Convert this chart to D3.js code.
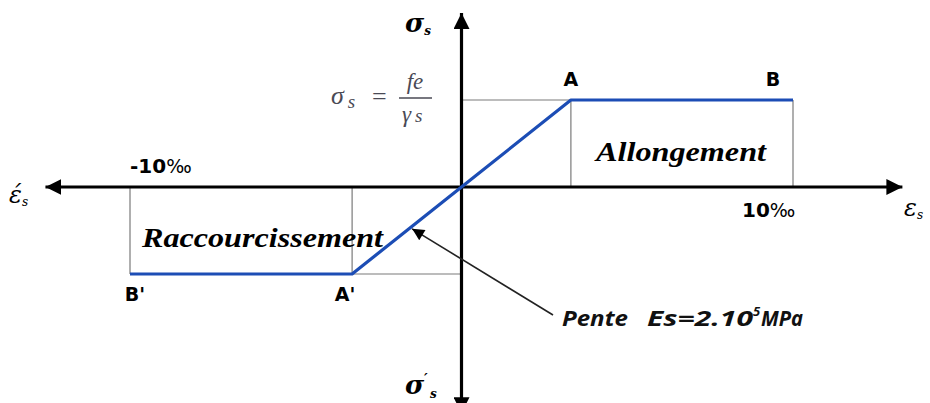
<!DOCTYPE html>
<html>
<head>
<meta charset="utf-8">
<script src="https://cdn.jsdelivr.net/npm/d3@7"></script>
<style>
  html, body { margin: 0; padding: 0; background: #fff; }
  svg { display: block; }
</style>
</head>
<body>
<div id="chart"></div>
<script>
// steel stress-strain diagram (strain in per mille, stress normalised to fe/γs)
const strain = [-10, -3.3, 0, 3.3, 10];
const stress = [-1, -1, 0, 1, 1];
const pointLabels = ["B'", "A'", "", "A", "B"];
const strainTicks = [-10, 10];
const tickLabels = ["-10", "10"];
const xAxisExtent = [-12.55, 13.3];
const yAxisExtent = [-2.6, 2.0];

const width = 930, height = 403;
const svg = d3.select("#chart").append("svg").attr("width", width).attr("height", height);

const x = d3.scaleLinear().domain([-10, 10]).range([130, 793]);
const y = d3.scaleLinear().domain([-1, 1]).range([274, 100]);

const defs = svg.append("defs");
function marker(id, w, h) {
  const m = defs.append("marker").attr("id", id).attr("viewBox", "0 -5 10 10")
    .attr("refX", 10).attr("markerUnits", "userSpaceOnUse")
    .attr("markerWidth", w).attr("markerHeight", h).attr("orient", "auto");
  m.append("path").attr("d", "M0,-5L10,0L0,5Z").attr("fill", "#000");
}
marker("axisArrow", 16, 16);
marker("noteArrow", 14, 12);

// grey guide lines
const guides = [];
strain.forEach((s, i) => {
  if (s === 0) return;
  guides.push({ x1: s, y1: stress[i], x2: s, y2: 0 });
});
const iA = 3, iA2 = 1;
guides.push({ x1: 0, y1: stress[iA], x2: strain[iA], y2: stress[iA] });
guides.push({ x1: 0, y1: stress[iA2], x2: strain[iA2], y2: stress[iA2] });
svg.append("g").selectAll("line").data(guides).join("line")
  .attr("x1", (d) => x(d.x1)).attr("y1", (d) => y(d.y1))
  .attr("x2", (d) => x(d.x2)).attr("y2", (d) => y(d.y2))
  .attr("stroke", "#7a7a7a").attr("stroke-width", 1.2);

// axes
const axes = svg.append("g").attr("stroke", "#000").attr("stroke-width", 3.2);
axes.append("line").attr("x1", x(0)).attr("y1", y(0)).attr("x2", x(xAxisExtent[1])).attr("y2", y(0)).attr("marker-end", "url(#axisArrow)");
axes.append("line").attr("x1", x(0)).attr("y1", y(0)).attr("x2", x(xAxisExtent[0])).attr("y2", y(0)).attr("marker-end", "url(#axisArrow)");
axes.append("line").attr("x1", x(0)).attr("y1", y(0)).attr("x2", x(0)).attr("y2", y(yAxisExtent[1])).attr("marker-end", "url(#axisArrow)");
axes.append("line").attr("x1", x(0)).attr("y1", y(0)).attr("x2", x(0)).attr("y2", y(yAxisExtent[0])).attr("marker-end", "url(#axisArrow)");

// stress-strain curve
const line = d3.line().x((d) => x(d[0])).y((d) => y(d[1]));
svg.append("path").datum(strain.map((s, i) => [s, stress[i]]))
  .attr("d", line).attr("fill", "none").attr("stroke", "#1c4db5").attr("stroke-width", 3.2)
  .attr("stroke-linejoin", "round");

// point labels
const pts = strain.map((s, i) => ({ s, v: stress[i], label: pointLabels[i] })).filter((d) => d.label);
svg.append("g").selectAll("text").data(pts).join("text")
  .attr("x", (d) => x(d.s) + (d.v > 0 ? (d.s > 5 ? -20 : 0) : (d.s < -5 ? 5 : -7)))
  .attr("y", (d) => d.v > 0 ? y(d.v) - 14 : y(d.v) + 27)
  .attr("text-anchor", "middle")
  .attr("font-family", "DejaVu Sans, sans-serif").attr("font-weight", "bold").attr("font-size", 19)
  .text((d) => d.label);

// tick labels (per mille)
const ticks = svg.append("g").selectAll("text").data(strainTicks).join("text")
  .attr("x", (d) => d < 0 ? x(d) : x(d) - 51)
  .attr("y", (d) => d < 0 ? y(0) - 14 : y(0) + 30)
  .attr("font-family", "DejaVu Sans, sans-serif").attr("font-size", 20);
ticks.append("tspan").attr("font-weight", "bold").text((d, i) => tickLabels[i]);
ticks.append("tspan").attr("font-size", 19).text("\u2030");

// axis titles
const serif = "DejaVu Serif, serif";
const topTitle = svg.append("text").attr("x", 405).attr("y", 32).attr("font-family", serif)
  .attr("font-style", "italic").attr("font-weight", "bold").attr("font-size", 26);
topTitle.append("tspan").text("\u03c3");
topTitle.append("tspan").attr("font-size", 12).attr("dy", 3).text("s");

const bottomTitle = svg.append("g").attr("font-family", serif).attr("font-style", "italic").attr("font-weight", "bold");
bottomTitle.append("text").attr("x", 405).attr("y", 394).attr("font-size", 26).text("\u03c3");
bottomTitle.append("text").attr("x", 424).attr("y", 384).attr("font-size", 14).text("\u2032");
bottomTitle.append("text").attr("x", 430).attr("y", 398).attr("font-size", 12).text("s");

const rightTitle = svg.append("text").attr("x", 904).attr("y", 216).attr("font-family", serif)
  .attr("font-style", "italic").attr("font-size", 24);
rightTitle.append("tspan").text("\u03b5");
rightTitle.append("tspan").attr("font-size", 12).attr("dy", 3).text("s");

const leftTitle = svg.append("text").attr("x", 9).attr("y", 203).attr("font-family", serif)
  .attr("font-style", "italic").attr("font-size", 24);
leftTitle.append("tspan").text("\u03ad");
leftTitle.append("tspan").attr("font-size", 12).attr("dy", 3).text("s");

// yield stress formula
const fcol = "#4a4a55";
const f = svg.append("g").attr("fill", fcol).attr("font-family", "Liberation Serif, serif").attr("font-style", "italic");
const sig = f.append("text").attr("x", 331).attr("y", 104).attr("font-size", 26);
sig.append("tspan").text("\u03c3");
sig.append("tspan").attr("dx", 4).attr("dy", 4).attr("font-size", 19).text("s");
f.append("text").attr("x", 372).attr("y", 105).attr("font-size", 26).attr("font-style", "normal").text("=");
f.append("text").attr("x", 415).attr("y", 89).attr("font-size", 23).attr("text-anchor", "middle").text("fe");
f.append("line").attr("x1", 399).attr("x2", 432).attr("y1", y(1) - 2).attr("y2", y(1) - 2).attr("stroke", fcol).attr("stroke-width", 1.3);
const gam = f.append("text").attr("x", 402).attr("y", 122).attr("font-size", 23);
gam.append("tspan").text("\u03b3");
gam.append("tspan").attr("dx", 4).attr("font-size", 19).text("s");

// zone names
const zoneFont = "Liberation Serif, serif";
svg.append("text").attr("x", 596).attr("y", 161).attr("font-family", zoneFont).attr("font-style", "italic")
  .attr("font-weight", "bold").attr("font-size", 27).attr("textLength", 170).attr("lengthAdjust", "spacingAndGlyphs").text("Allongement");
svg.append("text").attr("x", 142).attr("y", 247).attr("font-family", zoneFont).attr("font-style", "italic")
  .attr("font-weight", "bold").attr("font-size", 27).attr("textLength", 241).attr("lengthAdjust", "spacingAndGlyphs").text("Raccourcissement");

// slope annotation
const slopeAt = -1.55;
svg.append("line").attr("x1", 553).attr("y1", 315)
  .attr("x2", x(slopeAt) + 2).attr("y2", y(slopeAt / strain[iA]) + 1)
  .attr("stroke", "#222").attr("stroke-width", 1.6).attr("marker-end", "url(#noteArrow)");
const pente = svg.append("g").attr("font-family", "Open Sans, sans-serif")
  .attr("font-style", "italic").attr("font-weight", "bold").attr("font-size", 22).attr("fill", "#111");
pente.append("text").attr("x", 562).attr("y", 326).attr("textLength", 66).attr("lengthAdjust", "spacingAndGlyphs").text("Pente");
pente.append("text").attr("x", 647).attr("y", 326).attr("textLength", 106).attr("lengthAdjust", "spacingAndGlyphs").text("Es=2.10");
pente.append("text").attr("x", 753).attr("y", 316).attr("font-size", 13).text("5");
pente.append("text").attr("x", 761).attr("y", 326).attr("textLength", 42).attr("lengthAdjust", "spacingAndGlyphs").text("MPa");
</script>
</body>
</html>
